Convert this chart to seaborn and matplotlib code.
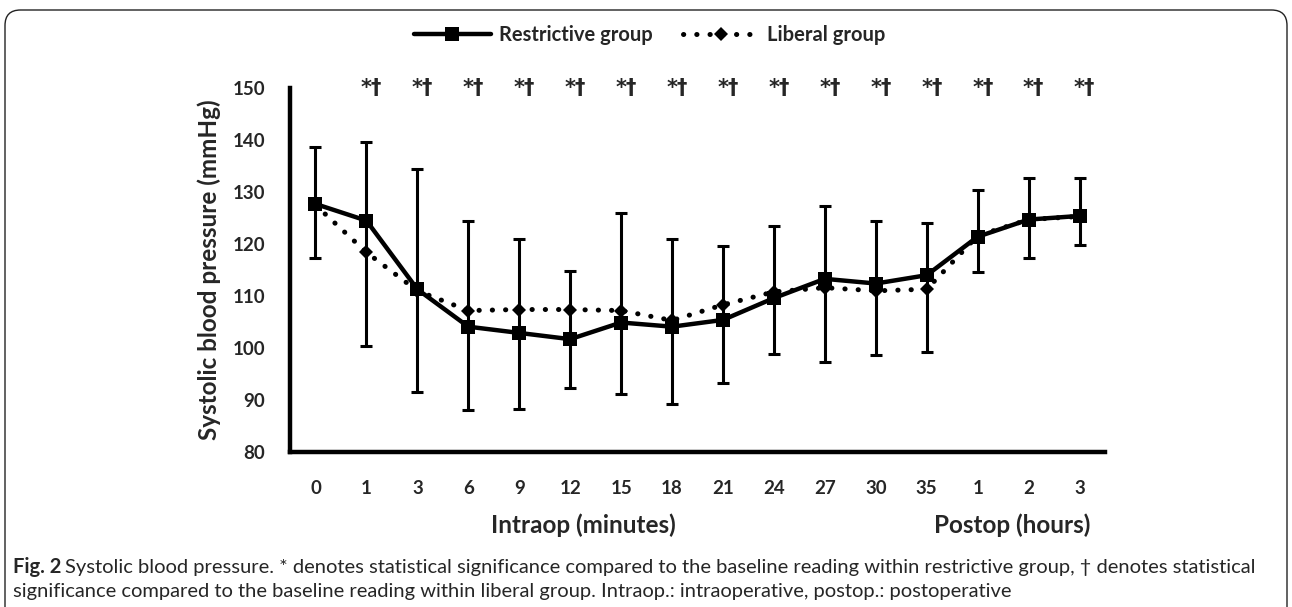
import numpy as np
import pandas as pd
import seaborn as sns
import matplotlib.pyplot as plt
from matplotlib.patches import FancyBboxPatch

time_labels = ['0', '1', '3', '6', '9', '12', '15', '18', '21', '24', '27', '30', '35', '1', '2', '3']
restrictive = [127.7, 124.5, 111.3, 104.1, 102.9, 101.7, 104.9, 104.1, 105.4, 109.6, 113.3, 112.4, 114.0, 121.4, 124.7, 125.4]
liberal = [127.5, 118.4, 111.0, 107.2, 107.4, 107.4, 107.2, 105.3, 108.3, 110.8, 111.6, 111.0, 111.3, 121.6, 124.7, 125.3]
err_low = [117.4, 100.3, 91.5, 88.0, 88.3, 92.4, 91.2, 89.3, 93.3, 98.8, 97.4, 98.7, 99.3, 114.7, 117.4, 119.8]
err_high = [138.6, 139.7, 134.5, 124.5, 121.0, 114.8, 125.9, 121.0, 119.6, 123.5, 127.3, 124.4, 124.1, 130.3, 132.7, 132.6]
signif = [''] + ['*\u2020'] * 15

sns.set_style('white')
plt.rcParams['font.family'] = ['Lato', 'DejaVu Sans']
plt.rcParams['font.weight'] = 'bold'

df = pd.DataFrame({'pos': np.arange(len(time_labels)), 'restrictive': restrictive, 'liberal': liberal})

fig = plt.figure(figsize=(12.92, 6.07), dpi=100)
ax = fig.add_axes([290 / 1292, 1 - 452 / 607, (1105 - 290) / 1292, (452 - 88) / 607])

yerr = [df['restrictive'] - np.array(err_low), np.array(err_high) - df['restrictive']]
ax.errorbar(df['pos'], df['restrictive'], yerr=yerr, fmt='none', ecolor='black',
            elinewidth=2.2, capsize=4.5, capthick=2.2, zorder=2)

sns.lineplot(data=df, x='pos', y='liberal', ax=ax, color='black', linestyle=(0, (0.05, 2.6)),
             linewidth=3.6, marker='D', markersize=7.5, markeredgewidth=0,
             label='Liberal group', zorder=3)
sns.lineplot(data=df, x='pos', y='restrictive', ax=ax, color='black', linewidth=3.2,
             marker='s', markersize=10, markeredgewidth=0, label='Restrictive group', zorder=4)
for line in ax.get_lines():
    if line.get_label() == 'Liberal group':
        line.set_dash_capstyle('round')

for i, s in enumerate(signif):
    if s:
        ax.text(i + 0.1, 150, s, ha='center', va='center', fontsize=15, fontweight='bold',
                family=['DejaVu Sans'])

ax.set_xlim(-0.5, len(time_labels) - 0.5)
ax.set_ylim(80, 150)
ax.set_yticks(range(80, 151, 10))
ax.set_xticks(df['pos'])
ax.set_xticklabels(time_labels)
ax.tick_params(axis='both', length=0, labelsize=13.5)
ax.tick_params(axis='x', pad=20)
ax.tick_params(axis='y', pad=18)
for lab in ax.get_xticklabels() + ax.get_yticklabels():
    lab.set_fontweight('bold')
ax.set_xlabel('')
ax.set_ylabel('Systolic blood pressure (mmHg)', fontsize=17.5, fontweight='bold', labelpad=8)
for side in ['top', 'right']:
    ax.spines[side].set_visible(False)
for side in ['left', 'bottom']:
    ax.spines[side].set_linewidth(3.2)
    ax.spines[side].set_color('black')
ax.spines['left'].set_capstyle('projecting')
ax.set_facecolor('white')

handles, labels = ax.get_legend_handles_labels()
ax.get_legend().remove()
leg = fig.legend(handles[::-1], labels[::-1], loc='center', bbox_to_anchor=(0.503, 1 - 35 / 607), ncol=2,
                 frameon=False, handlelength=3.8, columnspacing=1.5, handletextpad=0.4,
                 prop={'size': 14.5, 'weight': 'bold'})
for line in leg.get_lines():
    line.set_dash_capstyle('round')

fig.text(583 / 1292, 1 - 525 / 607, 'Intraop (minutes)', ha='center', va='center', fontsize=17.5, fontweight='bold')
fig.text(1012 / 1292, 1 - 525 / 607, 'Postop (hours)', ha='center', va='center', fontsize=17.5, fontweight='bold')

cap_y1 = 1 - 567 / 607
cap_y2 = 1 - 591 / 607
t = fig.text(13 / 1292, cap_y1, 'Fig. 2', ha='left', va='center', fontsize=14.5, fontweight='bold')
fig.canvas.draw()
bb = t.get_window_extent()
fig.text(bb.x1 / 1292 + 4 / 1292, cap_y1,
         'Systolic blood pressure. * denotes statistical significance compared to the baseline reading within restrictive group, \u2020 denotes statistical',
         ha='left', va='center', fontsize=14.5, fontweight='normal')
fig.text(13 / 1292, cap_y2,
         'significance compared to the baseline reading within liberal group. Intraop.: intraoperative, postop.: postoperative',
         ha='left', va='center', fontsize=14.5, fontweight='normal')

frame = FancyBboxPatch((5 / 1292, -0.1), (1287 - 5) / 1292, 1.1 - 10 / 607,
                       boxstyle='round,pad=0,rounding_size=0.012', transform=fig.transFigure,
                       facecolor='none', edgecolor='#222222', linewidth=1.0, mutation_aspect=1292 / 607)
fig.patches.append(frame)

fig.savefig('out.png', dpi=100, facecolor='white')
